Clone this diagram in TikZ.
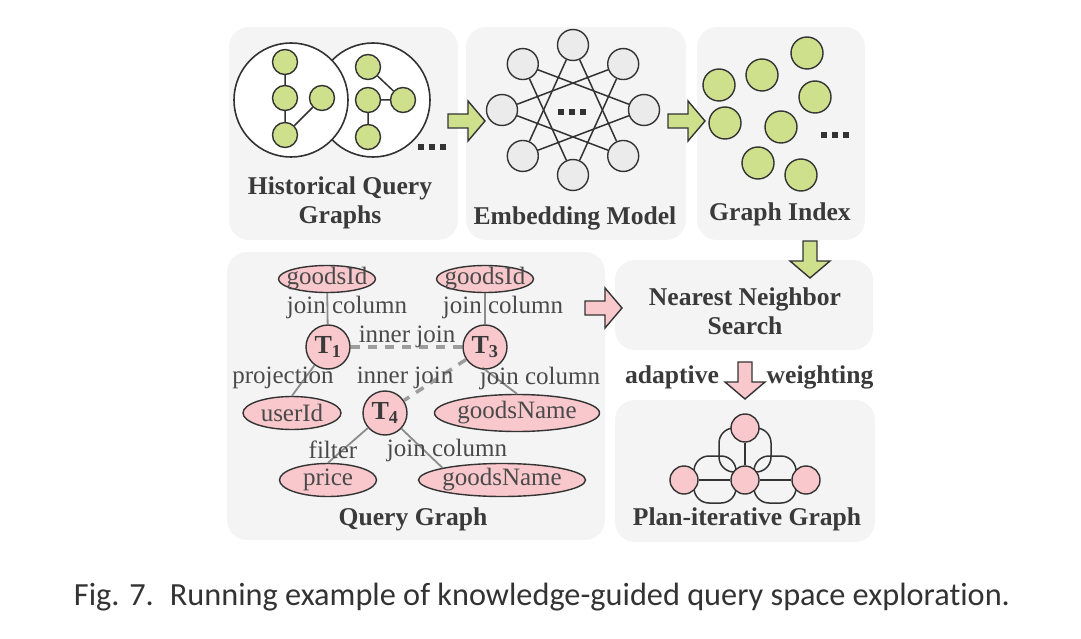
\documentclass[tikz,border=0pt]{standalone}
\usepackage{fontspec}
\setmainfont{Liberation Serif}
\newfontfamily\capfont[Ligatures=NoCommon]{Carlito}
\usetikzlibrary{shapes.geometric}

\definecolor{boxgray}{HTML}{F4F4F4}
\definecolor{leafgreen}{HTML}{CFE08D}
\definecolor{rosepink}{HTML}{F8C8CC}
\definecolor{nodegray}{HTML}{EBEBEB}
\definecolor{inkgray}{HTML}{333333}
\definecolor{txtgray}{HTML}{3A3A3A}
\definecolor{lblgray}{HTML}{4A4A4A}
\definecolor{edgegray}{HTML}{8C8C8C}

\tikzset{
  panel/.style={fill=boxgray, rounded corners=20pt},
  ttl/.style={font=\fontsize{25.6}{29}\selectfont\bfseries, text=txtgray, align=center},
  lbl/.style={font=\fontsize{25}{29}\selectfont, text=lblgray, inner sep=1pt},
  wire/.style={draw=inkgray, line width=1.5pt},
  gnode/.style={circle, draw=inkgray, line width=1.4pt, fill=leafgreen, minimum size=25pt, inner sep=0pt},
  bignode/.style={circle, draw=inkgray, line width=1.6pt, fill=white, minimum size=114pt, inner sep=0pt},
  enode/.style={circle, draw=inkgray, line width=1.4pt, fill=nodegray, minimum size=31pt, inner sep=0pt},
  inode/.style={gnode, minimum size=32pt},
  pnode/.style={circle, draw=inkgray, line width=1.4pt, fill=rosepink, minimum size=28pt, inner sep=0pt},
  tnode/.style={pnode, minimum size=44pt, font=\fontsize{26}{29}\selectfont\bfseries, text=txtgray},
  attr/.style={ellipse, draw=inkgray, line width=1.4pt, fill=rosepink, inner sep=0pt, minimum width=97pt, minimum height=33pt},
  qedge/.style={draw=edgegray, line width=1.8pt},
  qjoin/.style={draw=edgegray!85, line width=3.5pt, dash pattern=on 9pt off 8pt},
  loopline/.style={draw=inkgray, line width=1.5pt, rounded corners=15pt},
  pics/blkarrow/.style={code={
    \filldraw[fill=#1, draw=inkgray, line width=1.4pt, line join=miter]
      (-18,-7) -- (2,-7) -- (2,-20) -- (19,0) -- (2,20) -- (2,7) -- (-18,7) -- cycle;
  }},
}

\begin{document}
\begin{tikzpicture}[x=1pt, y=-1pt]
\useasboundingbox (0,0) rectangle (1081,639);

% panels
\fill[panel] (229,27) rectangle (458,240);
\fill[panel] (466,27) rectangle (686,240);
\fill[panel] (697,27) rectangle (865,240);
\fill[panel] (227,252) rectangle (605,540);
\fill[panel] (615,260) rectangle (873,350);
\fill[panel] (615,400) rectangle (875,542);

% historical query graphs
\node[bignode] (hright) at (373,100) {};
\node[bignode] (hleft) at (291,100) {};
\node[gnode] (a1) at (285,62) {};
\node[gnode] (a2) at (285,98) {};
\node[gnode] (a3) at (322,98) {};
\node[gnode] (a4) at (285,135) {};
\draw[wire] (a1) -- (a2) (a2) -- (a4) (a4) -- (a3);
\node[gnode] (b1) at (368,67) {};
\node[gnode] (b2) at (368,100) {};
\node[gnode] (b3) at (403,100) {};
\node[gnode] (b4) at (368,137) {};
\draw[wire] (b1) -- (b3) (b2) -- (b3) (b2) -- (b4);
\foreach \dx in {-11,0,11}
  \fill[inkgray] (432+\dx-3,144) rectangle ++(6,6);
\node[ttl] (histlbl) at (340,203) {Historical Query\\Graphs};

% embedding model
\foreach \k in {0,...,7}
  \node[enode] (e\k) at ({573+71*cos(90-45*\k)}, {110-65*sin(90-45*\k)}) {};
\foreach \k [evaluate=\k as \j using {int(mod(\k+3,8))}] in {0,...,7}
  \draw[wire] (e\k) -- (e\j);
\foreach \dx in {-11,0,11}
  \fill[inkgray] (572+\dx-3,109) rectangle ++(6,6);
\node[ttl] (emblbl) at (575,218) {Embedding Model};

% graph index
\node[inode] (g1) at (807,53) {};
\node[inode] (g2) at (762,75) {};
\node[inode] (g3) at (719,85) {};
\node[inode] (g4) at (815,97) {};
\node[inode] (g5) at (725,123) {};
\node[inode] (g6) at (781,127) {};
\node[inode] (g7) at (758,163) {};
\node[inode] (g8) at (801,175) {};
\foreach \dx in {-11,0,11}
  \fill[inkgray] (835+\dx-3,132) rectangle ++(6,6);
\node[ttl] (idxlbl) at (780,214) {Graph Index};

% query graph
\node[attr, minimum height=27pt, label={[lbl]center:goodsId}] (ga) at (327,279) {};
\node[attr, minimum height=27pt, label={[lbl]center:goodsId}] (gb) at (485,279) {};
\node[tnode] (t1) at (328,347) {T\textsubscript{1}};
\node[tnode] (t3) at (485,347) {T\textsubscript{3}};
\node[tnode] (t4) at (385,413) {T\textsubscript{4}};
\node[attr, minimum width=98pt, label={[lbl]center:userId}] (uid) at (292,413) {};
\node[attr, minimum width=165pt, minimum height=37pt, label={[lbl]center:goodsName}] (gn1) at (517,413) {};
\node[attr, label={[lbl]center:price}] (pr) at (328,480) {};
\node[attr, minimum width=167pt, label={[lbl]center:goodsName}] (gn2) at (502,480) {};

\draw[qedge] (ga) -- (t1);
\draw[qedge] (gb) -- (t3);
\draw[qedge] (t1) -- (uid.north);
\draw[qedge] (t3.south) -- (gn1.north);
\draw[qedge] (t4) -- (pr.north);
\draw[qedge] (t4) -- (gn2.north west);
\draw[qjoin] (t1) -- (t3);
\draw[qjoin] (t3) -- (t4);

\node[lbl] (l1) at (347,307) {join column};
\node[lbl] (l2) at (503,307) {join column};
\node[lbl] (l3) at (407,337) {inner join};
\node[lbl] (l4) at (283,378) {projection};
\node[lbl] (l5) at (405,378) {inner join};
\node[lbl] (l6) at (540,378) {join column};
\node[lbl] (l7) at (333,450) {filter};
\node[lbl] (l8) at (447,450) {join column};
\node[ttl] (qlbl) at (413,519) {Query Graph};

% nearest neighbor search
\node[ttl] (nnlbl) at (745,311) {Nearest Neighbor\\Search};
\node[ttl] (adalbl) at (672,377) {adaptive};
\node[ttl] (wgtlbl) at (820,377) {weighting};

% plan-iterative graph
\draw[loopline] (719,428) rectangle (771,472);
\draw[loopline] (694,456) rectangle (736,503);
\draw[loopline] (754,456) rectangle (796,503);
\node[pnode] (p1) at (745,428) {};
\node[pnode] (p2) at (745,480) {};
\node[pnode] (p3) at (684,480) {};
\node[pnode] (p4) at (806,480) {};
\draw[wire] (p1) -- (p2) (p3) -- (p2) (p2) -- (p4);
\node[ttl] (planlbl) at (747,519) {Plan-iterative Graph};

% block arrows
\pic at (466,121) {blkarrow=leafgreen};
\pic at (686,121) {blkarrow=leafgreen};
\pic[rotate=-90] at (810,259) {blkarrow=leafgreen};
\pic at (603,308) {blkarrow=rosepink};
\pic[rotate=-90] at (745,380) {blkarrow=rosepink};

% caption
\node[font=\capfont\fontsize{32.3}{36}\selectfont, text=inkgray] (cap) at (542,597)
  {Fig. 7.\enspace Running example of knowledge-guided query space exploration.};
\end{tikzpicture}
\end{document}
